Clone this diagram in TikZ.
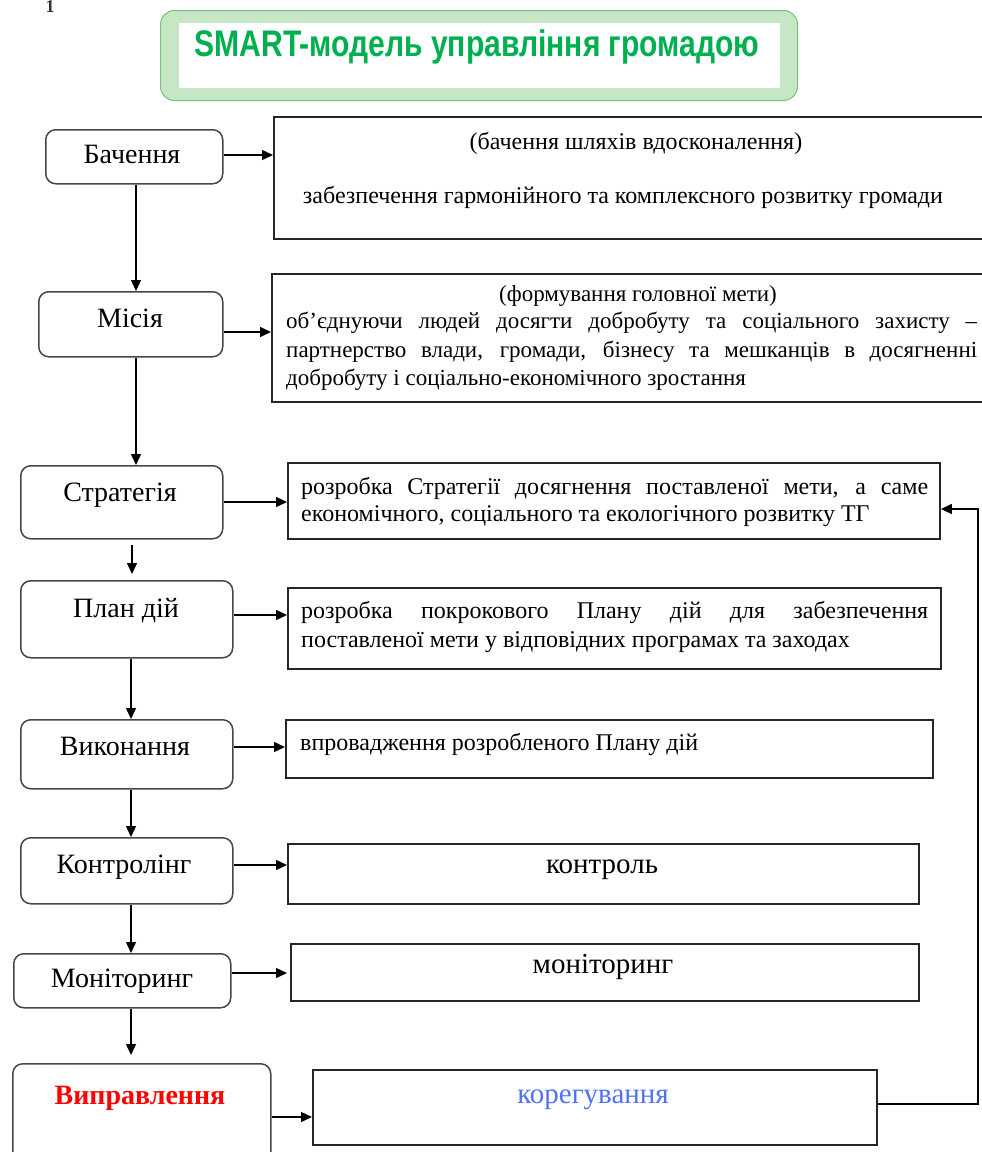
\documentclass[tikz,border=0pt]{standalone}
\usepackage{fontspec}
\setmainfont{Liberation Serif}
\newfontfamily\titlefont{Liberation Sans}
\usetikzlibrary{arrows.meta}
\definecolor{titlegreen}{RGB}{0,176,80}
\definecolor{framegreen}{RGB}{198,230,198}
\definecolor{framedge}{RGB}{120,195,120}
\definecolor{corblue}{RGB}{79,112,255}
\begin{document}
\begin{tikzpicture}[x=1pt,y=-1pt,
  stagebox/.style={draw=black!72, line width=1.5pt, rounded corners=10pt, anchor=north west, inner sep=0pt},
  descbox/.style={draw=black!85, line width=1.9pt, anchor=north west, inner sep=0pt},
  lbl/.style={anchor=base, inner sep=0pt, font=\fontsize{28}{32}\selectfont},
  txt/.style={anchor=base west, inner sep=0pt, font=\fontsize{24}{28}\selectfont},
  ctxt/.style={anchor=base, inner sep=0pt, font=\fontsize{24}{28}\selectfont},
  big/.style={anchor=base, inner sep=0pt, font=\fontsize{29}{32}\selectfont},
  arr/.style={line width=1.4pt, -{Triangle[length=11pt,width=10pt]}}]
\useasboundingbox (0,0) rectangle (982,1152);

% stray mark
\node[anchor=base, inner sep=0pt, font=\fontsize{18}{18}\selectfont\bfseries, text=black!80] (mark) at (50,12) {1};

% title
\node[draw=framedge, fill=framegreen, line width=1pt, rounded corners=14pt, anchor=north west, inner sep=0pt,
      minimum width=637pt, minimum height=90pt] (tframe) at (160,10) {};
\node[fill=white, anchor=north west, inner sep=0pt, minimum width=601pt, minimum height=65pt] (tinner) at (179,23) {};
\node[anchor=base, inner sep=0pt, text=titlegreen] (ttext) at (477,56)
  {\resizebox{565pt}{\height}{\titlefont\bfseries\fontsize{37}{38}\selectfont SMART-модель управління громадою}};

% left stage boxes
\node[stagebox, minimum width=177pt, minimum height=54pt] (s1) at (45,129) {};
\node[stagebox, minimum width=184pt, minimum height=65pt] (s2) at (38,291) {};
\node[stagebox, minimum width=202pt, minimum height=73pt] (s3) at (20,465) {};
\node[stagebox, minimum width=212pt, minimum height=77pt] (s4) at (20,580) {};
\node[stagebox, minimum width=212pt, minimum height=69pt] (s5) at (20,719) {};
\node[stagebox, minimum width=212pt, minimum height=66pt] (s6) at (20,837) {};
\node[stagebox, minimum width=217pt, minimum height=54pt] (s7) at (13,953) {};
\node[stagebox, minimum width=258pt, minimum height=120pt] (s8) at (12,1063) {};

\node[lbl] (l1) at (132,163) {Бачення};
\node[lbl] (l2) at (130,327) {Місія};
\node[lbl] (l3) at (120,501) {Стратегія};
\node[lbl] (l4) at (126,617) {План дій};
\node[lbl] (l5) at (125,755) {Виконання};
\node[lbl] (l6) at (124,873) {Контролінг};
\node[lbl] (l7) at (122,987) {Моніторинг};
\node[lbl, text=red, font=\fontsize{28}{32}\selectfont\bfseries] (l8) at (140,1104) {Виправлення};

% right description boxes
\node[descbox, minimum width=720pt, minimum height=122pt] (b1) at (273,116) {};
\node[descbox, minimum width=720pt, minimum height=128pt] (b2) at (271,273) {};
\node[descbox, minimum width=652pt, minimum height=76pt] (b3) at (287,462) {};
\node[descbox, minimum width=653pt, minimum height=81pt] (b4) at (287,587) {};
\node[descbox, minimum width=647pt, minimum height=58pt] (b5) at (285,719) {};
\node[descbox, minimum width=631pt, minimum height=60pt] (b6) at (287,843) {};
\node[descbox, minimum width=628pt, minimum height=57pt] (b7) at (290,943) {};
\node[descbox, minimum width=564pt, minimum height=75pt] (b8) at (312,1069) {};

\node[ctxt] (d1a) at (636,149) {(бачення шляхів вдосконалення)};
\node[ctxt] (d1b) at (623,203) {забезпечення гармонійного та комплексного розвитку громади};

\node[ctxt, font=\fontsize{23}{28}\selectfont] (d2a) at (638,301) {(формування головної мети)};
\node[txt, font=\fontsize{23}{28}\selectfont] (d2b) at (286,328) {\makebox[691pt][s]{об’єднуючи людей досягти добробуту та соціального захисту –}};
\node[txt, font=\fontsize{23}{28}\selectfont] (d2c) at (286,357) {\makebox[691pt][s]{партнерство влади, громади, бізнесу та мешканців в досягненні}};
\node[txt, font=\fontsize{23}{28}\selectfont] (d2d) at (286,385) {добробуту і соціально-економічного зростання};

\node[txt] (d3a) at (301,494) {\makebox[627pt][s]{розробка Стратегії досягнення поставленої мети, а саме}};
\node[txt] (d3b) at (301,521) {економічного, соціального та екологічного розвитку ТГ};

\node[txt] (d4a) at (301,618) {\makebox[627pt][s]{розробка покрокового Плану дій для забезпечення}};
\node[txt] (d4b) at (301,647) {поставленої мети у відповідних програмах та заходах};

\node[txt] (d5) at (300,750) {впровадження розробленого Плану дій};
\node[big] (d6) at (602,873) {контроль};
\node[big] (d7) at (603,973) {моніторинг};
\node[big, text=corblue] (d8) at (593,1103) {корегування};

% vertical connectors
\coordinate (xa) at (136,0);
\coordinate (xb) at (132,0);
\coordinate (xc) at (131,0);
\draw[arr] (s1.south -| xa) -- (s2.north -| xa);
\draw[arr] (s2.south -| xa) -- (s3.north -| xa);
\draw[arr, shorten <=5pt, shorten >=6pt] (s3.south -| xb) -- (s4.north -| xb);
\draw[arr] (s4.south -| xc) -- (s5.north -| xc);
\draw[arr] (s5.south -| xc) -- (s6.north -| xc);
\draw[arr] (s6.south -| xc) -- (s7.north -| xc);
\draw[arr, shorten >=8pt] (s7.south -| xc) -- (s8.north -| xc);

% horizontal connectors
\coordinate (y1) at (0,155);
\coordinate (y2) at (0,332);
\coordinate (y3) at (0,502);
\coordinate (y4) at (0,615);
\coordinate (y5) at (0,747);
\coordinate (y6) at (0,865);
\coordinate (y7) at (0,973);
\coordinate (y8) at (0,1117);
\draw[arr] (s1.east |- y1) -- (b1.west |- y1);
\draw[arr] (s2.east |- y2) -- (b2.west |- y2);
\draw[arr] (s3.east |- y3) -- (b3.west |- y3);
\draw[arr] (s4.east |- y4) -- (b4.west |- y4);
\draw[arr] (s5.east |- y5) -- (b5.west |- y5);
\draw[arr] (s6.east |- y6) -- (b6.west |- y6);
\draw[arr, shorten >=3pt] (s7.east |- y7) -- (b7.west |- y7);
\draw[arr] (s8.east |- y8) -- (b8.west |- y8);

% feedback loop
\coordinate (fbx) at (978,0);
\coordinate (fbout) at (0,1104);
\coordinate (fbin) at (0,509);
\draw[arr] (b8.east |- fbout) -- (fbx |- fbout) -- (fbx |- fbin) -- (b3.east |- fbin);
\end{tikzpicture}
\end{document}
